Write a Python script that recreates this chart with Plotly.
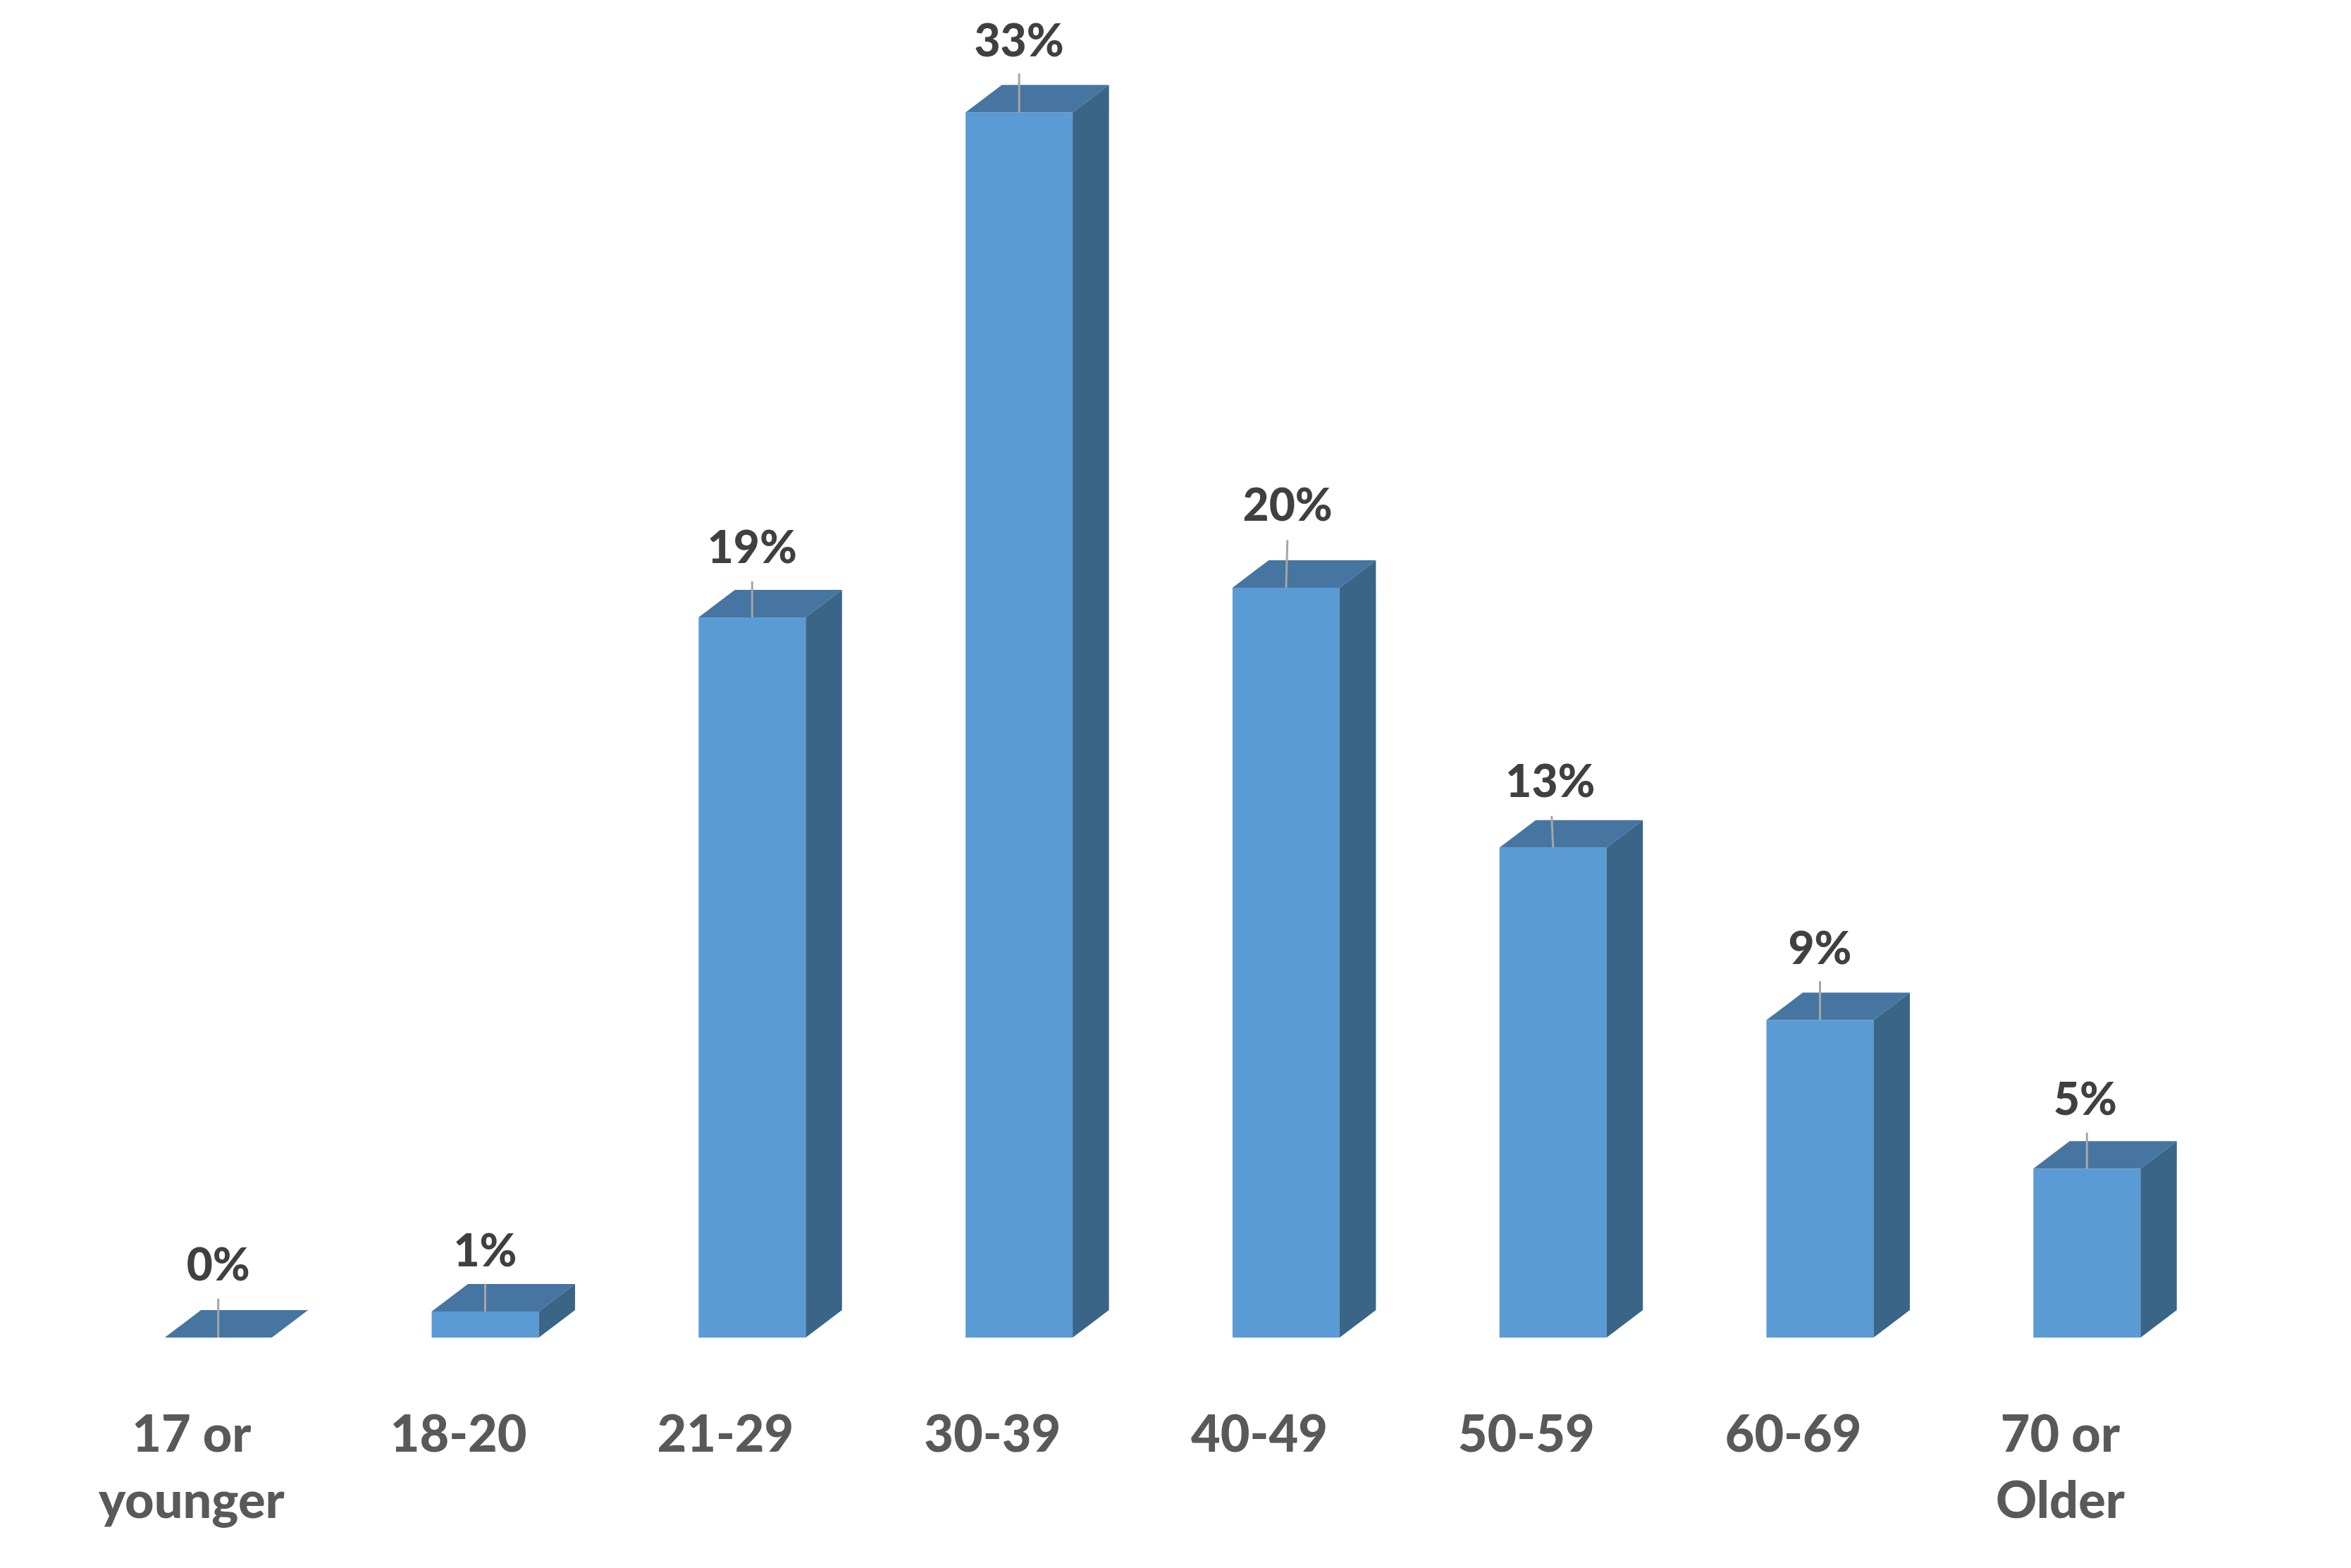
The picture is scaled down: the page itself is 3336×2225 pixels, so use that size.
import plotly.graph_objects as go

categories = ["17 or<br>younger", "18-20", "21-29", "30-39", "40-49", "50-59", "60-69", "70 or<br>Older"]
shares = [0, 0.7, 19.4, 33, 20.2, 13.2, 8.55, 4.55]
share_labels = ["0%", "1%", "19%", "33%", "20%", "13%", "9%", "5%"]

# presentation only (in axis units)
leader_lift = [1.05, 0.75, 0.97, 1.05, 1.28, 0.85, 1.05, 0.97]
leader_lean = [0, 0, 0, 0, 0.005, -0.005, 0.0, 0.0]
label_lift = [1.85, 1.52, 1.76, 1.81, 2.11, 1.67, 1.82, 1.75]
label_shift = [0, 0, 0, 0, 0.006, -0.01, 0, -0.006]

W, H = 3336, 2225
BASE_PX, TOP_PX = 1898, 159.6
X0_PX, PITCH_PX = 309.7, 378.8
PX_PER_UNIT = (BASE_PX - TOP_PX) / 33
BAR_W = 152 / PITCH_PX
DX = 51.5 / PITCH_PX
DY = 39 / PX_PER_UNIT
xs = list(range(len(shares)))

fig = go.Figure()
fig.add_trace(go.Bar(x=xs, y=shares, width=BAR_W, marker=dict(color="#5B9BD5", line=dict(width=0)), hoverinfo="skip"))

for x, v in zip(xs, shares):
    l, r = x - BAR_W / 2, x + BAR_W / 2
    fig.add_trace(go.Scatter(x=[r, r + DX, r + DX, r, r], y=[0, DY, v + DY, v, 0], mode="lines", fill="toself",
                             fillcolor="#3A6587", line=dict(width=0), hoverinfo="skip"))
    fig.add_trace(go.Scatter(x=[l, l + DX, r + DX, r, l], y=[v, v + DY, v + DY, v, v], mode="lines", fill="toself",
                             fillcolor="#4675A1", line=dict(width=0), hoverinfo="skip"))

lx, ly = [], []
for x, v, lift, lean in zip(xs, shares, leader_lift, leader_lean):
    lx += [x, x + lean, None]
    ly += [v, v + lift, None]
fig.add_trace(go.Scatter(x=lx, y=ly, mode="lines", line=dict(color="#A6A6A6", width=3), hoverinfo="skip"))

fig.add_trace(go.Scatter(
    x=[x + s for x, s in zip(xs, label_shift)],
    y=[v + l for v, l in zip(shares, label_lift)],
    mode="text", text=share_labels, textposition="middle center",
    textfont=dict(family="Lato", size=64, color="#404040", weight=900),
    cliponaxis=False, hoverinfo="skip"))

fig.update_layout(
    width=W, height=H, showlegend=False, paper_bgcolor="white", plot_bgcolor="white",
    margin=dict(l=0, r=0, t=0, b=H - BASE_PX, pad=0),
    xaxis=dict(range=[-X0_PX / PITCH_PX, (W - X0_PX) / PITCH_PX], showgrid=False, zeroline=False, showline=False,
               tickmode="array", tickvals=[x - 0.1 for x in xs], ticktext=categories,
               ticks="outside", ticklen=75, tickcolor="rgba(0,0,0,0)", tickwidth=1,
               tickfont=dict(family="Lato", size=72, color="#595959", weight=900)),
    yaxis=dict(range=[0, BASE_PX / PX_PER_UNIT], visible=False),
)
fig.write_html("out.html", config=dict(displayModeBar=False), post_script="document.body.style.margin='0';")
